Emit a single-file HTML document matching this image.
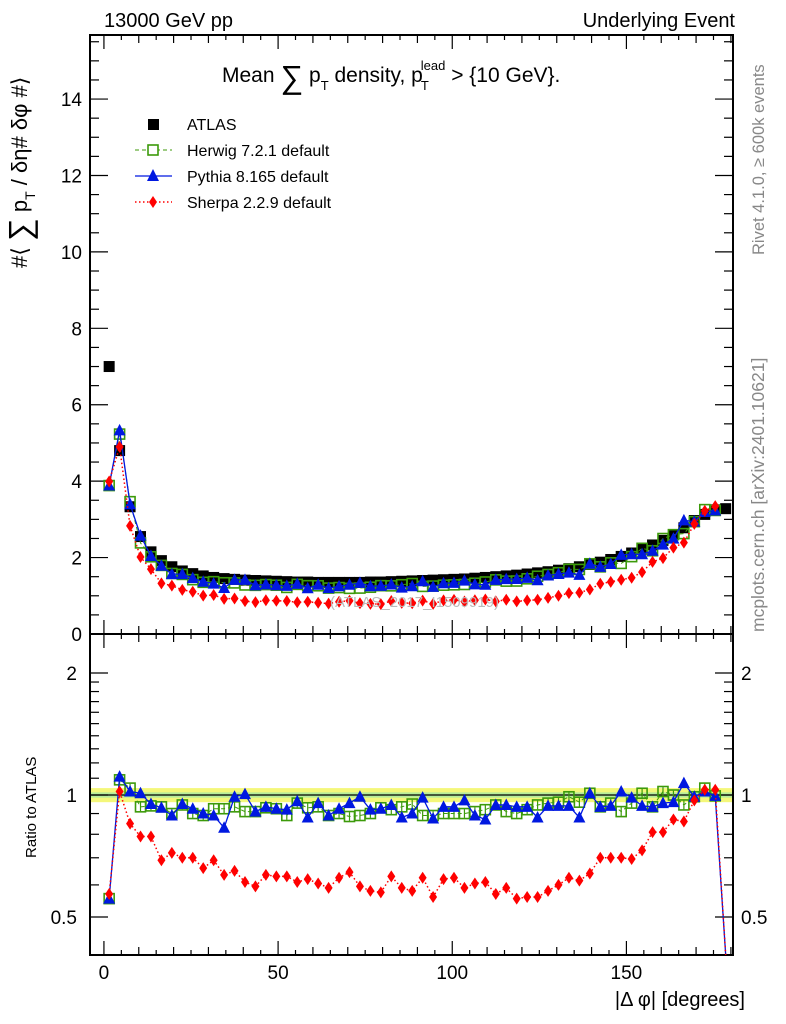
<!DOCTYPE html>
<html><head><meta charset="utf-8"><style>
html,body{margin:0;padding:0;background:#fff;}
svg{display:block;font-family:"Liberation Sans",Arial,sans-serif;}
</style></head><body>
<svg id="chart" width="786" height="1024" viewBox="0 0 786 1024" xmlns="http://www.w3.org/2000/svg">
<g id="layer"></g>
</svg>
<script>
const binCenters = [1.5,4.5,7.5,10.5,13.5,16.5,19.5,22.5,25.5,28.5,31.5,34.5,37.5,40.5,43.5,46.5,49.5,52.5,55.5,58.5,61.5,64.5,67.5,70.5,73.5,76.5,79.5,82.5,85.5,88.5,91.5,94.5,97.5,100.5,103.5,106.5,109.5,112.5,115.5,118.5,121.5,124.5,127.5,130.5,133.5,136.5,139.5,142.5,145.5,148.5,151.5,154.5,157.5,160.5,163.5,166.5,169.5,172.5,175.5,178.5];
const atlasValues = [7.0,4.8,3.33,2.55,2.15,1.92,1.76,1.65,1.58,1.52,1.48,1.45,1.43,1.41,1.40,1.39,1.38,1.37,1.36,1.36,1.35,1.35,1.35,1.35,1.35,1.36,1.36,1.37,1.38,1.39,1.40,1.41,1.42,1.43,1.44,1.46,1.48,1.50,1.52,1.54,1.57,1.60,1.63,1.67,1.71,1.76,1.82,1.88,1.95,2.03,2.12,2.22,2.33,2.45,2.60,2.78,2.97,3.13,3.25,3.28];
const herwigRatio = [0.555,1.09,1.04,0.935,0.94,0.935,0.90,0.945,0.90,0.89,0.925,0.925,0.935,0.91,0.91,0.93,0.925,0.89,0.955,0.93,0.935,0.89,0.90,0.885,0.89,0.90,0.93,0.92,0.935,0.95,0.89,0.89,0.90,0.90,0.90,0.91,0.92,0.945,0.91,0.90,0.92,0.945,0.955,0.96,0.99,0.96,1.01,0.935,0.955,0.91,0.955,1.01,0.935,1.02,1.0,0.945,0.99,1.04,0.995,0.05];
const pythiaRatio = [0.555,1.11,1.02,1.01,0.95,0.93,0.89,0.95,0.925,0.90,0.89,0.83,0.99,1.005,0.91,0.935,0.925,0.92,0.965,0.88,0.955,0.89,0.925,0.955,0.99,0.92,0.925,0.945,0.88,0.90,0.985,0.875,0.935,0.935,0.97,0.89,0.87,0.945,0.945,0.935,0.935,0.88,0.94,0.94,0.94,0.88,1.01,0.935,0.94,1.02,0.985,0.94,0.935,0.955,0.96,1.07,0.99,1.02,0.995,0.05];
const sherpaRatio = [0.57,1.02,0.85,0.79,0.79,0.69,0.72,0.70,0.70,0.66,0.69,0.635,0.65,0.61,0.595,0.635,0.63,0.63,0.61,0.62,0.605,0.59,0.625,0.645,0.595,0.58,0.575,0.63,0.59,0.58,0.625,0.56,0.62,0.625,0.59,0.605,0.61,0.57,0.59,0.555,0.56,0.56,0.58,0.60,0.625,0.615,0.64,0.70,0.70,0.70,0.695,0.73,0.81,0.81,0.87,0.86,0.97,1.03,1.03,0.05];
const xTickLabels = [0,50,100,150];
const mainYTickLabels = [0,2,4,6,8,10,12,14];
const ratioYTickLabels = [0.5,1,2];

const NS='http://www.w3.org/2000/svg';
const L=document.getElementById('layer');
function mk(tag,attrs,parent){const e=document.createElementNS(NS,tag);for(const k in attrs)e.setAttribute(k,attrs[k]);(parent||L).appendChild(e);return e;}
const X0=90,X1=733,MT=35,MB=634,RT=634,RB=955;
const xmin=-4,xmax=180.6;
const sx=v=>X0+(v-xmin)/(xmax-xmin)*(X1-X0);
const sy=v=>MB-v*38.21;
const sr=v=>795-122*Math.log2(v);
const clampR=y=>Math.min(Math.max(y,RT),RB);

let band=mk('rect',{x:X0,y:sr(1.04),width:X1-X0,height:sr(0.96)-sr(1.04),fill:'#f4f77a'});


let band2=mk('rect',{x:X0,y:sr(1.015),width:X1-X0,height:sr(0.985)-sr(1.015),fill:'#b6ec9a'});


let one=mk('line',{x1:X0,x2:X1,y1:sr(1),y2:sr(1),stroke:'#000','stroke-width':1.2});



for(const [t,b,n] of [[MT,MB,'main-plot-frame'],[RT,RB,'ratio-plot-frame']]){
  const r=mk('rect',{x:X0,y:t,width:X1-X0,height:b-t,fill:'none',stroke:'#000','stroke-width':2});
  
  
}
for(const [t,b] of [[MT,MB],[RT,RB]]){
  for(let v=0;v<=180;v+=5){
    const len=v%50===0?14:(v%10===0?8:5);
    mk('line',{x1:sx(v),x2:sx(v),y1:b,y2:b-len,stroke:'#000','stroke-width':1.2});
    mk('line',{x1:sx(v),x2:sx(v),y1:t,y2:t+len,stroke:'#000','stroke-width':1.2});
  }
}
xTickLabels.forEach(v=>{const t=mk('text',{x:sx(v),y:979,'font-size':19,'text-anchor':'middle'});t.textContent=v;
 
 });
for(let v=0;v<=15.5;v+=0.5){
  const len=v%2===0?18:9;const y=sy(v);
  mk('line',{x1:X0,x2:X0+len,y1:y,y2:y,stroke:'#000','stroke-width':1.2});
  mk('line',{x1:X1,x2:X1-len,y1:y,y2:y,stroke:'#000','stroke-width':1.2});
}
mainYTickLabels.forEach(v=>{const t=mk('text',{x:82,y:sy(v)+7,'font-size':19,'text-anchor':'end'});t.textContent=v;
 
 });
const rTicks=[0.5,0.6,0.7,0.8,0.9,1,1.1,1.2,1.3,1.4,1.5,1.6,1.7,1.8,1.9,2];
rTicks.forEach(v=>{const len=(v===0.5||v===1||v===2)?18:9;const y=sr(v);
  mk('line',{x1:X0,x2:X0+len,y1:y,y2:y,stroke:'#000','stroke-width':1.2});
  mk('line',{x1:X1,x2:X1-len,y1:y,y2:y,stroke:'#000','stroke-width':1.2});});
ratioYTickLabels.forEach(v=>{
  const a=mk('text',{x:77,y:sr(v)+7,'font-size':19,'text-anchor':'end'});a.textContent=v;
  
  
  const b=mk('text',{x:741,y:sr(v)+7,'font-size':19,'text-anchor':'start'});b.textContent=v;
  
  
});

function marker(kind,x,y,g){
  if(kind==='sq')return mk('rect',{x:x-5.5,y:y-5.5,width:11,height:11,fill:'#000'},g);
  if(kind==='osq')return mk('rect',{x:x-5,y:y-5,width:10,height:10,fill:'none',stroke:'#3c9a0a','stroke-width':1.6},g);
  if(kind==='tri')return mk('polygon',{points:`${x},${y-6.5} ${x+6},${y+5} ${x-6},${y+5}`,fill:'#0018e0'},g);
  if(kind==='dia')return mk('polygon',{points:`${x},${y-6} ${x+4},${y} ${x},${y+6} ${x-4},${y}`,fill:'#f00'},g);
}
const series=[
 {name:'herwig',ratio:herwigRatio,kind:'osq',color:'#3c9a0a',dash:'4,3',w:1},
 {name:'pythia',ratio:pythiaRatio,kind:'tri',color:'#0018e0',dash:'',w:1.3},
 {name:'sherpa',ratio:sherpaRatio,kind:'dia',color:'#f00',dash:'1.5,2.5',w:1.5}
];
const gA=mk('g',{});


binCenters.forEach((c,i)=>{const m=marker('sq',sx(c),sy(atlasValues[i]),gA);
 
 });
series.forEach(s=>{
  const g=mk('g',{});
  
  
  const pts=[];
  binCenters.forEach((c,i)=>{if(s.ratio[i]>0.3)pts.push([sx(c),sy(atlasValues[i]*s.ratio[i])]);});
  const pl=mk('polyline',{points:pts.map(p=>p.join(',')).join(' '),fill:'none',stroke:s.color,'stroke-width':s.w,'stroke-dasharray':s.dash},g);
  
  
  pts.forEach(p=>{const m=marker(s.kind,p[0],p[1],g);
    
    });
  const gr=mk('g',{});
  
  
  const rp=binCenters.map((c,i)=>[sx(c),clampR(sr(s.ratio[i]))]);
  const rl=mk('polyline',{points:rp.map(p=>p.join(',')).join(' '),fill:'none',stroke:s.color,'stroke-width':s.w,'stroke-dasharray':s.dash},gr);
  
  
  binCenters.forEach((c,i)=>{if(s.ratio[i]<=0.3)return;const x=sx(c),y=sr(s.ratio[i]);
    mk('line',{x1:x,x2:x,y1:sr(s.ratio[i]*1.025),y2:sr(s.ratio[i]/1.025),stroke:s.color,'stroke-width':1.2},gr);
    const m=marker(s.kind,x,y,gr);
    
    });
});
</script>
<script>
const texts=[
 ['top-left-label',104,27,20,'start','#000','13000 GeV pp'],
 ['top-right-label',735,27,20,'end','#000','Underlying Event'],
 ['x-axis-title',745,1006,20,'end','#000','|Δ φ| [degrees]'],
 ['legend-atlas',187,130,16,'start','#000','ATLAS'],
 ['legend-herwig',187,156,16,'start','#000','Herwig 7.2.1 default'],
 ['legend-pythia',187,182,16,'start','#000','Pythia 8.165 default'],
 ['legend-sherpa',187,208,16,'start','#000','Sherpa 2.2.9 default'],
 ['watermark',330,607,15,'start','#bbb','(ATLAS_2017_I1509919)']
];
const svg=document.getElementById('chart');
texts.forEach(t=>{const e=document.createElementNS(NS,'text');e.setAttribute('x',t[1]);e.setAttribute('y',t[2]);e.setAttribute('font-size',t[3]);e.setAttribute('text-anchor',t[4]);e.setAttribute('fill',t[5]);e.textContent=t[6];
 
 
 svg.appendChild(e);});
</script>
<svg style="position:absolute;left:0;top:0" width="786" height="1024">
<g font-family="Liberation Sans, Arial, sans-serif">
<text x="222" y="82" font-size="21">Mean <tspan font-size="32" dy="6">∑</tspan><tspan dy="-6"> p</tspan><tspan font-size="13" dy="8">T</tspan><tspan dy="-8"> density, p</tspan><tspan font-size="13" dy="8" dx="-2">T</tspan><tspan font-size="13" dy="-20" dx="-8">lead</tspan><tspan dy="12"> &gt; {10 GeV}.</tspan></text>
<text transform="translate(27,268) rotate(-90)" font-size="22">#⟨ <tspan font-size="32" dy="4">∑</tspan><tspan dy="-4"> p</tspan><tspan font-size="14" dy="8">T</tspan><tspan dy="-8">  / δη# δφ #⟩</tspan></text>
<text transform="translate(36,858) rotate(-90)" font-size="15">Ratio to ATLAS</text>
<text transform="translate(764,255) rotate(-90)" font-size="16.5" fill="#888">Rivet 4.1.0, ≥ 600k events</text>
<text transform="translate(764,632) rotate(-90)" font-size="17.5" fill="#888">mcplots.cern.ch [arXiv:2401.10621]</text>
<rect x="148" y="119" width="11" height="11" fill="#000"/>
<line x1="135" x2="172" y1="150" y2="150" stroke="#3c9a0a" stroke-dasharray="4,3"/>
<rect x="148" y="145" width="10" height="10" fill="#fff" stroke="#3c9a0a" stroke-width="1.6"/>
<line x1="135" x2="172" y1="176" y2="176" stroke="#0018e0" stroke-width="1.3"/>
<polygon points="153,169 159,181 147,181" fill="#0018e0"/>
<line x1="135" x2="172" y1="202" y2="202" stroke="#f00" stroke-width="1.5" stroke-dasharray="1.5,2.5"/>
<polygon points="153,196 157,202 153,208 149,202" fill="#f00"/>
</g>
</svg>
</body></html>
